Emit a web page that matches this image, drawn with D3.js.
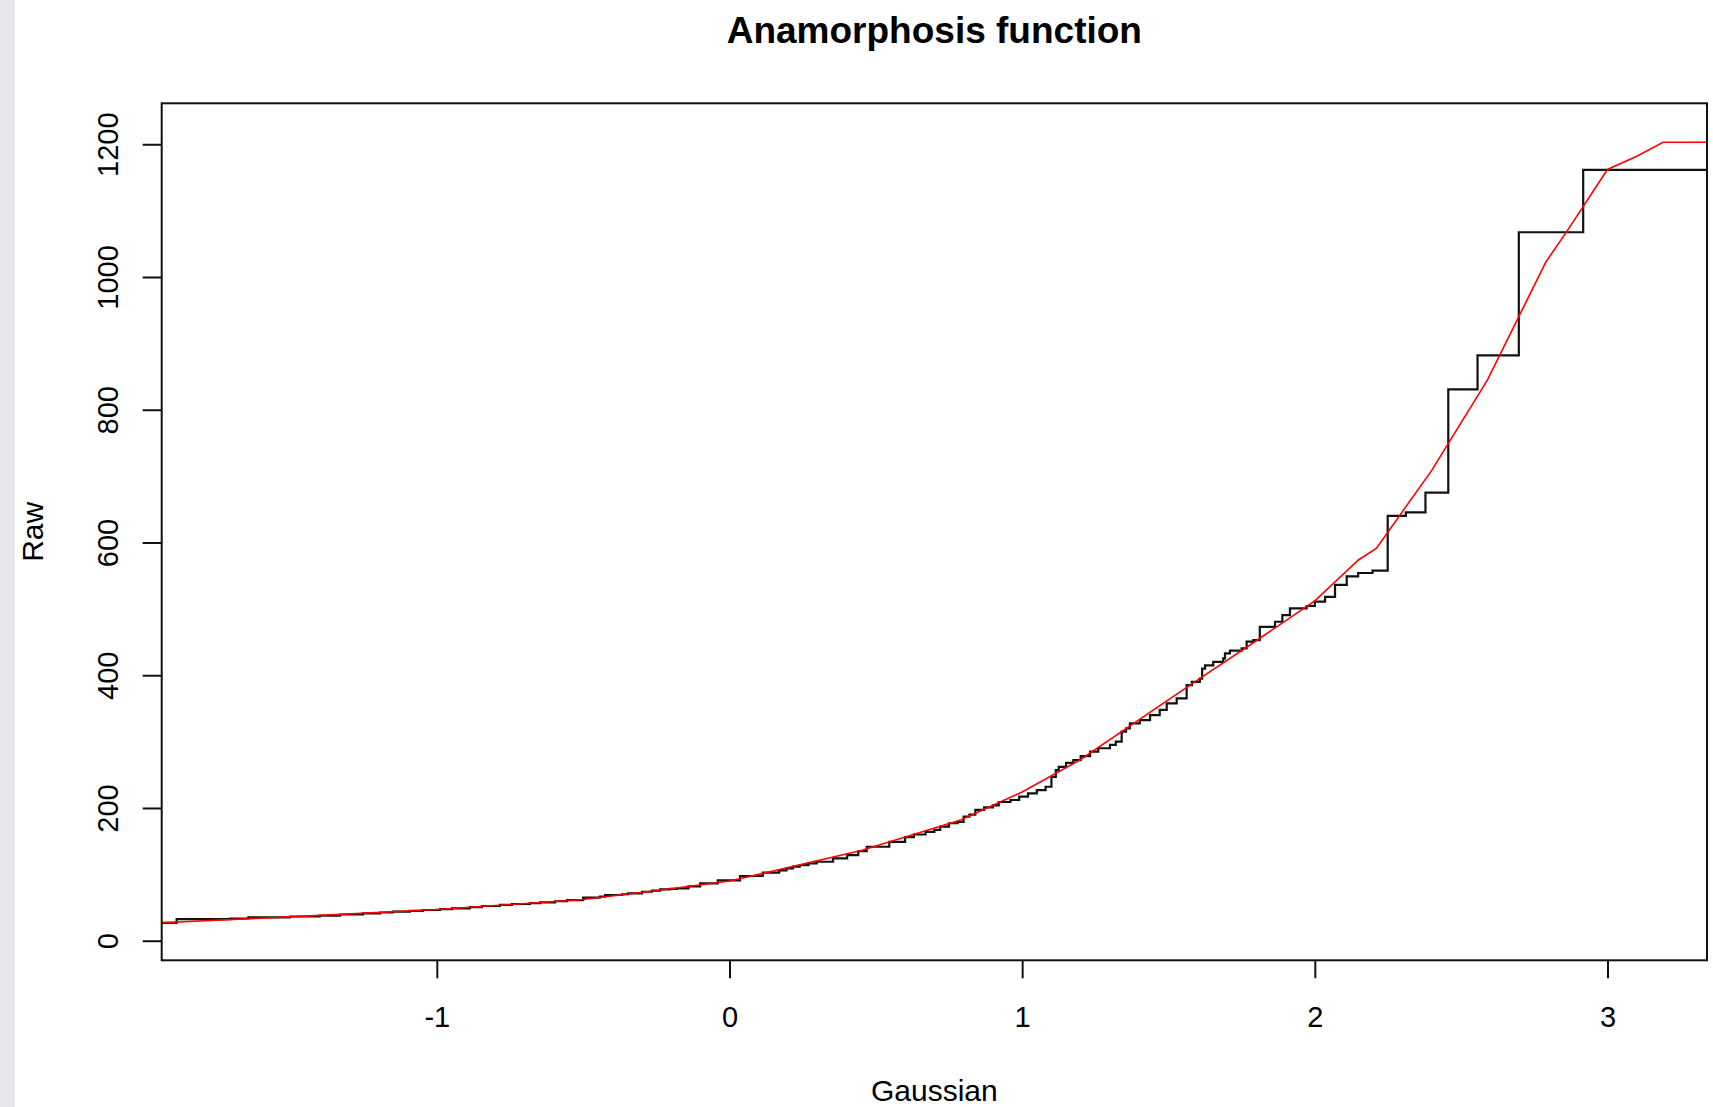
<!DOCTYPE html>
<html lang="en">
<head>
  <meta charset="UTF-8">
  <title>Anamorphosis function</title>
  <script src="https://d3js.org/d3.v7.min.js"></script>
  <style>
    body {
      margin: 0;
      background: #fff;
      font-family: 'Liberation Sans', Arial, sans-serif;
    }
    svg { display: block; }
    .tick-label { font-size: 29px; fill: #000; }
    .axis-title { font-size: 30px; fill: #000; }
    .chart-title { font-size: 37px; font-weight: bold; fill: #000; }
  </style>
</head>
<body>
  <svg width="1713" height="1107"></svg>
  <script>
    // axis ticks
    const xTicks = [-1, 0, 1, 2, 3];
    const yTicks = [0, 200, 400, 600, 800, 1000, 1200];

    // empirical anamorphosis (step function): gaussian value where each step starts, raw level
    const stepX = [-1.94, -1.889, -1.707, -1.644, -1.502, -1.40, -1.33, -1.252, -1.194, -1.15,
                   -1.092, -1.047, -0.989, -0.948, -0.887, -0.846, -0.784, -0.743, -0.682, -0.647,
                   -0.596, -0.555, -0.5, -0.443, -0.425, -0.367, -0.347, -0.299, -0.265, -0.237,
                   -0.203, -0.179, -0.14, -0.1, -0.04, 0.036, 0.114, 0.17, 0.195, 0.217,
                   0.24, 0.27, 0.298, 0.354, 0.402, 0.44, 0.469, 0.546, 0.6, 0.63,
                   0.67, 0.7, 0.72, 0.75, 0.78, 0.8, 0.82, 0.84, 0.87, 0.9,
                   0.92, 0.96, 0.99, 1.02, 1.05, 1.08, 1.1, 1.115, 1.125, 1.15,
                   1.175, 1.2, 1.232, 1.26, 1.3, 1.32, 1.34, 1.355, 1.368, 1.402,
                   1.437, 1.47, 1.494, 1.528, 1.562, 1.58, 1.607, 1.615, 1.625, 1.653,
                   1.687, 1.693, 1.71, 1.75, 1.767, 1.79, 1.812, 1.864, 1.889, 1.915,
                   1.972, 2.0, 2.035, 2.069, 2.109, 2.148, 2.197, 2.249, 2.311, 2.378,
                   2.456, 2.556, 2.697, 2.917, 3.34];
    const stepY = [27, 32.5, 33.5, 35.3, 36.5, 37.7, 39.5, 41.3, 42.5, 43.7,
                   45, 46.3, 47.5, 48.8, 50.5, 52.3, 54, 55.3, 56.5, 57.8,
                   59.5, 61.3, 64.8, 66.5, 68.9, 70, 71.4, 73.8, 75.5, 77.4,
                   78, 79, 82, 86.5, 91, 97.5, 102.5, 106, 109, 111.5,
                   114, 116.6, 119, 124, 129, 135, 141.6, 149, 156, 160,
                   164, 167, 172, 177, 179, 187, 190, 197, 201, 204,
                   209, 212, 217, 222, 227, 232, 247, 257, 262, 268,
                   272, 278, 285, 290, 295, 300, 315, 320, 327.5, 332.5,
                   340, 347.7, 357.7, 365, 385, 390, 395, 410, 415, 420,
                   425.5, 433, 437, 440.5, 450.5, 453, 473, 480.6, 490.7, 500.8,
                   504.3, 510.8, 518, 536, 549, 554, 557.5, 640, 645.5, 675,
                   830.8, 882, 1067.4, 1161.3, 1161.3];

    // fitted anamorphosis (red polyline)
    const fitX = [-1.94, -1.5, -1.0, -0.5, -0.24, 0.0, 0.1, 0.45, 0.79, 1.0,
                  1.2, 1.4, 1.6, 1.8, 2.0, 2.15, 2.21, 2.4, 2.46, 2.59,
                  2.7, 2.79, 2.86, 3.0, 3.1, 3.19, 3.34];
    const fitY = [27, 36, 47, 62, 76, 90, 100, 136, 182, 224,
                  273, 333, 393, 452, 512, 574, 591, 709, 752, 845,
                  943, 1023, 1068, 1162, 1182, 1203, 1203];

    const svg = d3.select("svg");
    const plot = {left: 161.7, right: 1707, top: 103.3, bottom: 960.3};

    const x = d3.scaleLinear().domain([-1.94, 3.34]).range([plot.left, plot.right]);
    const y = d3.scaleLinear().domain([-29.5, 1261.7]).range([plot.bottom, plot.top]);

    // grey strip at the left edge of the screenshot
    svg.append("rect")
      .attr("x", 0).attr("y", 0)
      .attr("width", 15).attr("height", 1107)
      .attr("fill", "#e8e8ec");

    svg.append("clipPath").attr("id", "clip")
      .append("rect")
      .attr("x", plot.left).attr("y", plot.top)
      .attr("width", plot.right - plot.left)
      .attr("height", plot.bottom - plot.top);

    const steps = stepX.map((d, i) => [d, stepY[i]]);
    const fit = fitX.map((d, i) => [d, fitY[i]]);

    svg.append("path")
      .datum(steps)
      .attr("clip-path", "url(#clip)")
      .attr("fill", "none")
      .attr("stroke", "#111")
      .attr("stroke-width", 2.2)
      .attr("d", d3.line().x(d => x(d[0])).y(d => y(d[1])).curve(d3.curveStepAfter));

    svg.append("path")
      .datum(fit)
      .attr("clip-path", "url(#clip)")
      .attr("fill", "none")
      .attr("stroke", "#ff0000")
      .attr("stroke-width", 1.6)
      .attr("d", d3.line().x(d => x(d[0])).y(d => y(d[1])));

    // axes, R style
    const xAxis = svg.append("g")
      .attr("transform", `translate(0,${plot.bottom})`)
      .call(d3.axisBottom(x).tickValues(xTicks).tickSize(18).tickFormat(d3.format("d")));
    xAxis.select(".domain").remove();
    xAxis.selectAll("line").attr("stroke", "#111").attr("stroke-width", 2);
    xAxis.selectAll("text").remove();
    xAxis.selectAll(".tick").append("text")
      .attr("class", "tick-label")
      .attr("y", 67)
      .attr("text-anchor", "middle")
      .text(d => d < 0 ? "-" + Math.abs(d) : d);

    const yAxis = svg.append("g")
      .attr("transform", `translate(${plot.left},0)`)
      .call(d3.axisLeft(y).tickValues(yTicks).tickSize(19));
    yAxis.select(".domain").remove();
    yAxis.selectAll("line").attr("stroke", "#111").attr("stroke-width", 2);
    yAxis.selectAll("text").remove();
    yAxis.selectAll(".tick").append("text")
      .attr("class", "tick-label")
      .attr("transform", `translate(${118 - plot.left},0) rotate(-90)`)
      .attr("text-anchor", "middle")
      .text(d => d);

    svg.append("rect")
      .attr("x", plot.left).attr("y", plot.top)
      .attr("width", plot.right - plot.left)
      .attr("height", plot.bottom - plot.top)
      .attr("fill", "none")
      .attr("stroke", "#111")
      .attr("stroke-width", 2);

    const cx = (plot.left + plot.right) / 2;

    svg.append("text")
      .attr("class", "chart-title")
      .attr("x", cx).attr("y", 43)
      .attr("text-anchor", "middle")
      .text("Anamorphosis function");

    svg.append("text")
      .attr("class", "axis-title")
      .attr("x", cx).attr("y", 1101)
      .attr("text-anchor", "middle")
      .text("Gaussian");

    svg.append("text")
      .attr("class", "axis-title")
      .attr("transform", `translate(43,${(plot.top + plot.bottom) / 2}) rotate(-90)`)
      .attr("text-anchor", "middle")
      .text("Raw");
  </script>
</body>
</html>
